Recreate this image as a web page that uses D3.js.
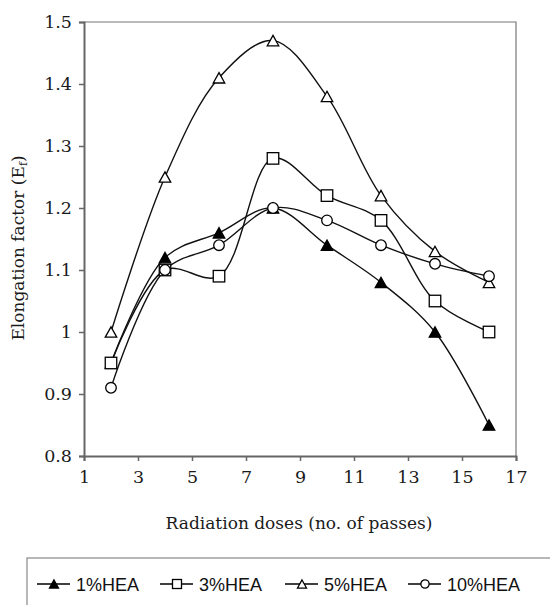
<!DOCTYPE html>
<html>
<head>
<meta charset="utf-8">
<script src="https://cdn.jsdelivr.net/npm/d3@7"></script>
<style>
  body { margin: 0; background: #fff; }
  .tick text { font-family: "DejaVu Serif", "Liberation Serif", serif; }
</style>
</head>
<body>
<div id="chart"></div>
<script>
// Elongation factor vs radiation dose, one smoothed line per HEA content.

const doses = [2, 4, 6, 8, 10, 12, 14, 16];
const hea1 = [0.95, 1.12, 1.16, 1.20, 1.14, 1.08, 1.00, 0.85];
const hea3 = [0.95, 1.10, 1.09, 1.28, 1.22, 1.18, 1.05, 1.00];
const hea5 = [1.00, 1.25, 1.41, 1.47, 1.38, 1.22, 1.13, 1.08];
const hea10 = [0.91, 1.10, 1.14, 1.20, 1.18, 1.14, 1.11, 1.09];
const xTicks = [1, 3, 5, 7, 9, 11, 13, 15, 17];
const yTicks = [0.8, 0.9, 1.0, 1.1, 1.2, 1.3, 1.4, 1.5];

const series = [
    {name: '1%HEA', values: hea1, marker: 'triangle', filled: true},
    {name: '3%HEA', values: hea3, marker: 'square', filled: false},
    {name: '5%HEA', values: hea5, marker: 'triangle', filled: false},
    {name: '10%HEA', values: hea10, marker: 'circle', filled: false}
];

const W = 550, H = 605;
const plot = {left: 84, top: 22, right: 516, bottom: 456};
const serif = '"DejaVu Serif", "Liberation Serif", serif';

const svg = d3.select('#chart').append('svg')
    .attr('width', W).attr('height', H);

const x = d3.scaleLinear().domain([1, 17]).range([plot.left, plot.right]);
const y = d3.scaleLinear().domain([0.8, 1.5]).range([plot.bottom, plot.top]);

// plot frame (top and right)
svg.append('path')
    .attr('d', `M${plot.left},${plot.top}H${plot.right}V${plot.bottom}`)
    .attr('fill', 'none').attr('stroke', '#777').attr('stroke-width', 1.2);

const xAxis = svg.append('g')
    .attr('transform', `translate(0,${plot.bottom})`)
    .call(d3.axisBottom(x).tickValues(xTicks).tickSize(5).tickPadding(10).tickFormat(d3.format('d')));
const yAxis = svg.append('g')
    .attr('transform', `translate(${plot.left},0)`)
    .call(d3.axisLeft(y).tickValues(yTicks).tickSize(5).tickPadding(7).tickFormat(d => d === 1 ? '1' : d3.format('.1f')(d)));

[xAxis, yAxis].forEach(a => {
    a.select('.domain').attr('stroke', '#666').attr('stroke-width', 2);
    a.selectAll('.tick line').attr('stroke', '#666').attr('stroke-width', 1.5);
    a.selectAll('.tick text').attr('font-size', 17.5).attr('fill', '#1a1a1a');
});

// axis titles
svg.append('text')
    .attr('x', 299).attr('y', 529)
    .attr('text-anchor', 'middle')
    .attr('font-family', serif)
    .attr('font-size', 17).attr('fill', '#1a1a1a')
    .text('Radiation doses (no. of passes)');

const yTitle = svg.append('text')
    .attr('transform', 'translate(24,248) rotate(-90)')
    .attr('text-anchor', 'middle')
    .attr('font-family', serif)
    .attr('font-size', 17).attr('fill', '#1a1a1a');
yTitle.append('tspan').text('Elongation factor (E');
yTitle.append('tspan').attr('font-size', 11).attr('dy', 3).text('f');
yTitle.append('tspan').attr('dy', -3).text(')');

const line = d3.line()
    .x((d, i) => x(doses[i]))
    .y(d => y(d))
    .curve(d3.curveCatmullRom.alpha(0.5));

function drawMarker(g, type, filled, cx, cy, s) {
    const fill = filled ? '#000' : '#fff';
    if (type === 'circle') {
        g.append('circle').attr('cx', cx).attr('cy', cy).attr('r', s * 0.46)
            .attr('fill', fill).attr('stroke', '#000').attr('stroke-width', 1.3);
    } else if (type === 'square') {
        g.append('rect').attr('x', cx - s / 2).attr('y', cy - s / 2)
            .attr('width', s).attr('height', s)
            .attr('fill', fill).attr('stroke', '#000').attr('stroke-width', 1.3);
    } else {
        const h = s * 0.9;
        g.append('path')
            .attr('d', `M${cx},${cy - h / 2}L${cx + s / 2},${cy + h / 2}L${cx - s / 2},${cy + h / 2}Z`)
            .attr('fill', fill).attr('stroke', '#000').attr('stroke-width', 1.3);
    }
}

series.forEach(s => {
    svg.append('path')
        .attr('d', line(s.values))
        .attr('fill', 'none').attr('stroke', '#111').attr('stroke-width', 1.4);
});
series.forEach(s => {
    const g = svg.append('g');
    s.values.forEach((v, i) => drawMarker(g, s.marker, s.filled, x(doses[i]), y(v), 11.5));
});

// legend
svg.append('rect')
    .attr('x', 27).attr('y', 558).attr('width', 540).attr('height', 60)
    .attr('fill', '#fff').attr('stroke', '#888').attr('stroke-width', 1.2);

const legendX = [37, 160, 285, 408];
series.forEach((s, i) => {
    const g = svg.append('g').attr('transform', `translate(${legendX[i]},584)`);
    g.append('line').attr('x1', 0).attr('x2', 33).attr('y1', 0).attr('y2', 0)
        .attr('stroke', '#000').attr('stroke-width', 1.4);
    drawMarker(g, s.marker, s.filled, 17, 0, 9);
    g.append('text')
        .attr('x', 39).attr('y', 6.5)
        .attr('font-family', '"Liberation Sans", Arial, sans-serif')
        .attr('font-size', 18).attr('fill', '#111')
        .text(s.name);
});
</script>
</body>
</html>
